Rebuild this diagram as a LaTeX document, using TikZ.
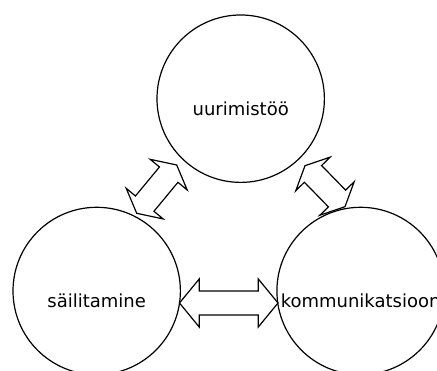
\documentclass[tikz,border=0pt]{standalone}
\usepackage{fontspec}
\setmainfont{DejaVu Sans}
\usetikzlibrary{calc}
% block arrow with a head at each end, drawn from #1 to #2
\newcommand{\dblarrow}[2]{%
  \draw [blockarrow] let \p1=(#1), \p2=(#2),
      \n1={atan2(\y2-\y1,\x2-\x1)}, \n2={veclen(\x2-\x1,\y2-\y1)/5}
    in (\p1)
    -- ($(\p1)+(\n1:\n2)+(\n1+90:24pt)$)
    -- ($(\p1)+(\n1:\n2)+(\n1+90:12pt)$)
    -- ($(\p2)+(\n1+180:\n2)+(\n1+90:12pt)$)
    -- ($(\p2)+(\n1+180:\n2)+(\n1+90:24pt)$)
    -- (\p2)
    -- ($(\p2)+(\n1+180:\n2)+(\n1-90:24pt)$)
    -- ($(\p2)+(\n1+180:\n2)+(\n1-90:12pt)$)
    -- ($(\p1)+(\n1:\n2)+(\n1-90:12pt)$)
    -- ($(\p1)+(\n1:\n2)+(\n1-90:24pt)$)
    -- cycle;}

\begin{document}
\begin{tikzpicture}[%
    ring/.style={draw,circle,line width=1.2pt,minimum size=167.4pt,inner sep=0pt},
    word/.style={anchor=base,inner sep=0pt,font=\fontsize{18pt}{20pt}\selectfont},
    blockarrow/.style={draw,line width=1.2pt,line join=miter}]
  \useasboundingbox (0pt,0pt) rectangle (437pt,371pt);
  \clip (0pt,0pt) rectangle (437pt,371pt);
  %
  \node [ring] (uuri) at (240.7pt,272.3pt) {};
  \node [ring] (sail) at (96.7pt,80pt) {};
  \node [ring] (komm) at (360.6pt,80pt) {};
  %
  \node [word] (uuritxt) at ([yshift=-17pt]uuri.center) {uurimistöö};
  \node [word] (sailtxt) at ([yshift=-16.5pt]sail.center) {säilitamine};
  \node [word] (kommtxt) at ([yshift=-16.5pt]komm.center) {kommunikatsioon};
  %
  \coordinate (a1) at (136.7pt,157.7pt);
  \coordinate (a2) at (176.7pt,206.0pt);
  \coordinate (b1) at (305.0pt,205.3pt);
  \coordinate (b2) at (345.0pt,164.3pt);
  \coordinate (c1) at (179.5pt,68.0pt);
  \coordinate (c2) at (278.0pt,68.0pt);
  \dblarrow{a1}{a2}
  \dblarrow{b1}{b2}
  \dblarrow{c1}{c2}
\end{tikzpicture}
\end{document}
